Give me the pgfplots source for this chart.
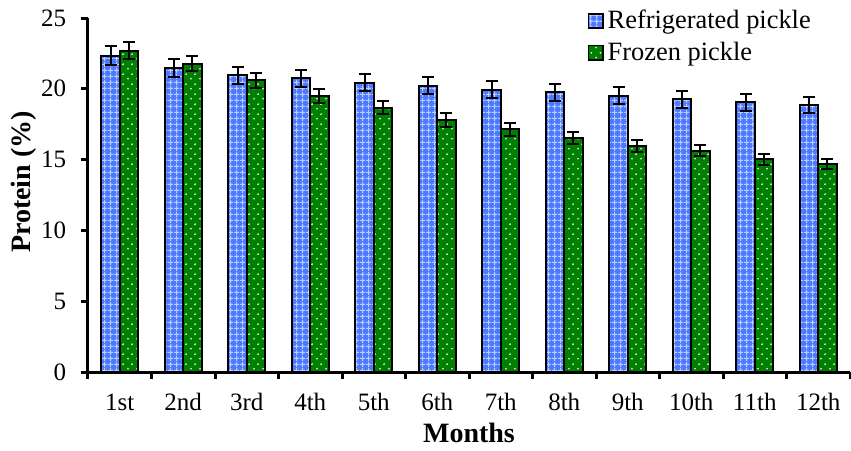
\documentclass[border=0pt]{standalone}
\usepackage{pgfplots}
\pgfplotsset{compat=1.18}
\usepackage{fontspec}
\setmainfont{Liberation Serif}
\usetikzlibrary{patterns.meta}

\definecolor{refblue}{RGB}{77,121,255}
\definecolor{refgrid}{RGB}{185,205,255}
\definecolor{frzgreen}{RGB}{0,128,0}

% light lattice drawn over the blue bars
\tikzdeclarepattern{
  name=lattice,
  type=uncolored,
  bounding box={(0pt,0pt) and (3pt,3pt)},
  tile size={(3pt,3pt)},
  code={
    \fill (0pt,1.2pt) rectangle (3pt,1.8pt);
    \fill (1.2pt,0pt) rectangle (1.8pt,3pt);
  }
}
% staggered white dots on the green bars
\tikzdeclarepattern{
  name=stagdots,
  type=uncolored,
  bounding box={(0pt,0pt) and (4.5pt,5pt)},
  tile size={(4.5pt,5pt)},
  code={
    \fill (1.1pt,1.25pt) circle (0.5pt);
    \fill (3.35pt,3.75pt) circle (0.5pt);
  }
}

\begin{document}
\begin{tikzpicture}
\begin{axis}[
  scale only axis,
  width=381pt, height=177pt,
  xmin=-0.5, xmax=11.5,
  ymin=0, ymax=25,
  axis lines*=left,
  axis line style={line width=1.5pt},
  ybar,
  bar width=0.29,
  xtick={0,...,11},
  xticklabels={1st,2nd,3rd,4th,5th,6th,7th,8th,9th,10th,11th,12th},
  major x tick style={draw=none},
  minor xtick={-0.5,0.5,...,11.5},
  ytick={0,5,10,15,20,25},
  tick align=outside,
  major tick length=3.5pt,
  minor tick length=3.5pt,
  tick style={line width=1.5pt, black},
  /pgf/number format/assume math mode=true,
  tick label style={font=\fontsize{12.5}{14}\selectfont},
  xticklabel style={anchor=base, inner sep=0pt, yshift=-15.5pt},
  yticklabel style={anchor=east, inner sep=0pt, xshift=-7.2pt},
  xlabel={\textbf{Months}},
  xlabel style={font=\fontsize{14}{16}\selectfont, at={(axis description cs:0.5,0)}, anchor=base, inner sep=0pt, yshift=-35pt},
  ylabel={\textbf{Protein (\%)}},
  ylabel style={font=\fontsize{14}{16}\selectfont, at={(axis description cs:0,0.537)}, anchor=south, inner sep=0pt, yshift=25.5pt},
  legend style={draw=none, fill=none, at={(axis description cs:0.655,1)}, anchor=north west,
    yshift=6pt, font=\fontsize{13.2}{15}\selectfont, inner sep=0pt, row sep=1pt,
    /tikz/every even column/.append style={column sep=1pt}},
  legend cell align=left,
  legend image code/.code={\draw[#1, line width=0.9pt] (0pt,-3.6pt) rectangle (7.2pt,3.6pt);},
  error bars/error bar style={line width=1pt, black},
  error bars/error mark options={rotate=90, mark size=3pt, line width=1pt, black},
]
\addplot[bar shift=-0.145, fill=refblue, draw=black, line width=1pt,
  postaction={pattern={lattice}, pattern color=refgrid},
  error bars/.cd, y dir=both, y explicit]
  coordinates {
    (0,22.34) +- (0,0.67)
    (1,21.47) +- (0,0.65)
    (2,20.95) +- (0,0.62)
    (3,20.74) +- (0,0.62)
    (4,20.43) +- (0,0.62)
    (5,20.22) +- (0,0.62)
    (6,19.94) +- (0,0.61)
    (7,19.75) +- (0,0.60)
    (8,19.51) +- (0,0.60)
    (9,19.26) +- (0,0.60)
    (10,19.04) +- (0,0.59)
    (11,18.86) +- (0,0.58)
  };
\addlegendentry{Refrigerated pickle}
\addplot[bar shift=0.145, fill=frzgreen, draw=black, line width=1pt,
  postaction={pattern={stagdots}, pattern color=white},
  error bars/.cd, y dir=both, y explicit]
  coordinates {
    (0,22.69) +- (0,0.58)
    (1,21.77) +- (0,0.54)
    (2,20.60) +- (0,0.53)
    (3,19.51) +- (0,0.50)
    (4,18.67) +- (0,0.46)
    (5,17.80) +- (0,0.47)
    (6,17.14) +- (0,0.44)
    (7,16.55) +- (0,0.42)
    (8,15.96) +- (0,0.40)
    (9,15.63) +- (0,0.40)
    (10,15.02) +- (0,0.38)
    (11,14.69) +- (0,0.37)
  };
\addlegendentry{Frozen pickle}
\coordinate (bl) at (rel axis cs:0,0);
\coordinate (tr) at (rel axis cs:1,1);
\end{axis}
\pgfresetboundingbox
\path[use as bounding box] ([shift={(-44pt,-39pt)}]bl) rectangle ([shift={(0.5pt,9pt)}]tr);
\end{tikzpicture}
\end{document}
